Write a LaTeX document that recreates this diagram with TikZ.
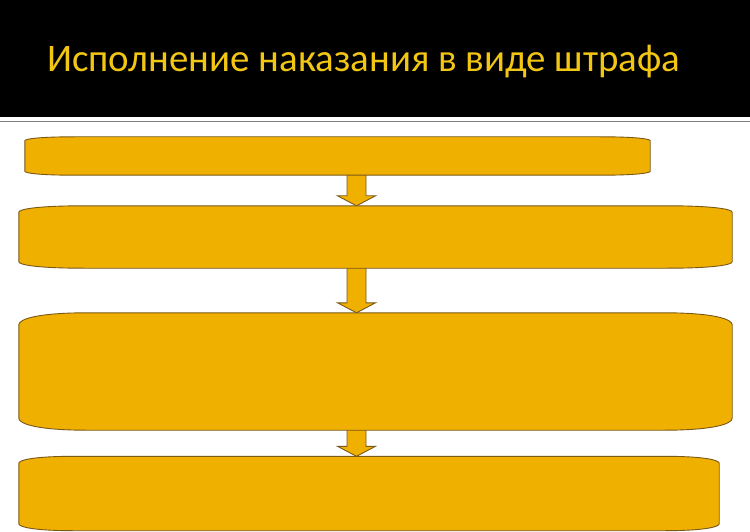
\documentclass[tikz,border=0pt]{standalone}
\usepackage{fontspec}
\usepackage{graphicx}
\setmainfont{Carlito}
\usetikzlibrary{calc}
\definecolor{boxgold}{HTML}{F0B000}
\definecolor{boxedge}{HTML}{7A5818}
\definecolor{titlegold}{HTML}{F2C612}
\definecolor{rulegray}{HTML}{7F7F7F}
\tikzset{
  boxstyle/.style={fill=boxgold, draw=boxedge, line width=0.9pt, line join=round},
  arrstyle/.style={fill=boxgold, draw=boxedge, line width=0.9pt, line join=miter},
  frame/.style={draw=none, inner sep=0pt, minimum width=#1},
}
\newcommand\flowbox[3]{%
  \draw[boxstyle]
    ($(#1.north west)+(0,#3)$) .. controls ($(#1.north west)+(0,0.5*#3)$) and ($(#1.north west)+(0.3*#2,0)$) .. ($(#1.north west)+(#2,0)$)
    -- ($(#1.north east)+(-#2,0)$) .. controls ($(#1.north east)+(-0.3*#2,0)$) and ($(#1.north east)+(0,0.5*#3)$) .. ($(#1.north east)+(0,#3)$)
    -- ($(#1.south east)+(0,-#3)$) .. controls ($(#1.south east)+(0,-0.5*#3)$) and ($(#1.south east)+(-0.3*#2,0)$) .. ($(#1.south east)+(-#2,0)$)
    -- ($(#1.south west)+(#2,0)$) .. controls ($(#1.south west)+(0.3*#2,0)$) and ($(#1.south west)+(0,-0.5*#3)$) .. ($(#1.south west)+(0,-#3)$)
    -- cycle;}
\newcommand\blockarr[2]{%
  \draw[arrstyle] let \p1=(#1.south -| ax), \p2=(#2.north -| ax) in
    (\x1-9.5,\y1) -- (\x1-9.5,\y2+10) -- (\x1-19,\y2+10) -- (\x1,\y2)
    -- (\x1+19,\y2+10) -- (\x1+9.5,\y2+10) -- (\x1+9.5,\y1);}
\begin{document}
\begin{tikzpicture}[x=1pt, y=-1pt]
  \useasboundingbox (0,0) rectangle (750,532);
  \fill[white] (0,0) rectangle (750,532);
  \fill[black] (0,0) rectangle (750,117);
  \draw[rulegray, line width=1.6pt] (0,121.5) -- (750,121.5);
  \node[anchor=base west, inner sep=0pt, text=titlegold, font=\fontsize{39}{46}\selectfont] (title) at (47,72)
    {\resizebox{633pt}{\height}{Исполнение наказания в виде штрафа}};

  \coordinate (ax) at (356.5,0);
  \node[frame=625pt, minimum height=38pt] (b1) at (337.5,156) {};
  \node[frame=713pt, minimum height=62pt] (b2) at (375.5,237) {};
  \node[frame=713pt, minimum height=117pt] (b3) at (375.5,371.5) {};
  \node[frame=700pt, minimum height=74pt] (b4) at (369,493.5) {};

  \blockarr{b1}{b2}
  \blockarr{b2}{b3}
  \blockarr{b3}{b4}

  \flowbox{b1}{50}{4}
  \flowbox{b2}{65}{6.5}
  \flowbox{b3}{68}{12}
  \flowbox{b4}{55}{7}
\end{tikzpicture}
\end{document}
